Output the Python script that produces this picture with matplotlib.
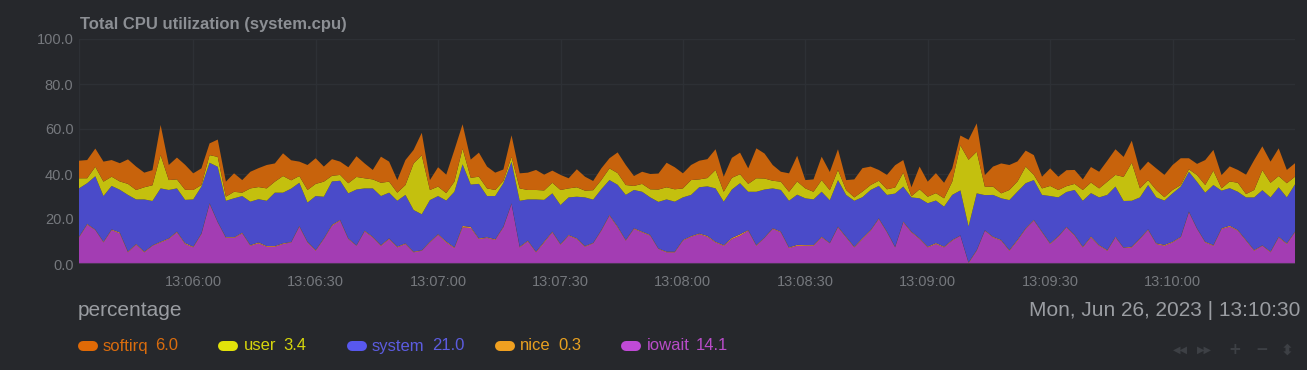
import matplotlib
matplotlib.use("Agg")
import matplotlib.pyplot as plt
import matplotlib.dates as mdates
from matplotlib.lines import Line2D
import pandas as pd

# 2-second samples, 13:05:32 .. 13:10:30
times = pd.date_range("2023-06-26 13:05:32", periods=150, freq="2s")

softirq = [7.8, 8.1, 8.1, 8.9, 7.4, 8.1, 10.9, 10.4, 6.5, 6.7, 13.4, 6.7, 9.7, 11.1, 7.4, 7.4, 5.2, 7.7, 6.7, 8.2, 5.6, 7.4, 8.4, 10.4, 8.1, 10.1, 8.9, 6.4, 11.1, 11.4, 6.7,
           7.4, 5.9, 7.1, 9.2, 6.6, 4.2, 11.6, 8.9, 5.6, 11.1, 6.0, 10.0, 4.4, 8.6, 8.2, 14.1, 10.8, 8.1, 10.7, 9.7, 7.7, 5.1, 9.6, 6.7, 7.7, 8.9, 7.0, 5.4, 6.7, 4.5,
           8.0, 6.2, 4.1, 5.2, 4.5, 9.2, 8.9, 4.4, 5.4, 6.8, 7.1, 10.9, 9.8, 6.7, 6.7, 8.3, 8.4, 9.2, 6.7, 8.9, 9.6, 6.9, 13.3, 11.1, 7.0, 4.4, 8.2, 11.4, 3.7, 5.5,
           10.4, 8.1, 9.2, 4.4, 8.0, 10.4, 8.2, 4.8, 6.4, 9.9, 5.6, 4.0, 10.1, 6.7, 8.9, 6.9, 5.9, 4.4, 8.9, 12.6, 5.2, 8.9, 13.3, 11.1, 8.9, 7.1, 8.8, 5.2, 7.8, 5.9,
           7.1, 6.2, 4.7, 6.9, 7.4, 9.3, 11.4, 8.9, 9.8, 7.9, 8.2, 9.6, 9.9, 11.1, 11.9, 4.9, 5.0, 11.1, 9.2, 5.9, 6.7, 5.7, 8.6, 13.3, 10.6, 9.4, 12.3, 5.9, 6.0]

user = [4.5, 2.2, 4.2, 6.4, 4.1, 3.7, 4.9, 4.2, 5.4, 7.0, 14.8, 4.4, 4.0, 4.5, 4.2, 0.7, 3.4, 4.4, 1.8, 2.9, 1.5, 5.9, 5.4, 5.5, 4.9, 7.4, 3.7, 3.0, 5.6, 5.4, 6.7,
        2.5, 2.6, 4.5, 5.6, 4.5, 4.0, 5.9, 4.9, 3.6, 4.4, 20.7, 26.2, 4.5, 4.2, 3.3, 4.5, 7.0, 3.0, 3.2, 3.4, 2.7, 1.0, 2.2, 5.5, 4.2, 4.2, 4.2, 4.7, 6.7, 4.0,
        4.2, 3.0, 4.2, 4.1, 5.2, 5.2, 4.4, 1.8, 3.5, 3.6, 5.5, 5.4, 5.5, 4.0, 6.6, 3.5, 3.7, 8.2, 4.4, 5.2, 4.0, 3.5, 6.0, 4.9, 3.4, 3.7, 4.0, 5.9, 4.4, 3.4,
        5.2, 4.5, 4.5, 2.2, 1.5, 2.5, 2.2, 2.3, 2.5, 2.7, 6.2, 0.5, 4.0, 2.9, 3.3, 3.7, 5.9, 20.0, 29.6, 18.5, 3.7, 3.7, 2.2, 4.5, 4.5, 7.4, 2.3, 2.9, 4.5, 3.3,
        2.6, 2.7, 4.8, 4.7, 4.0, 5.9, 5.2, 10.7, 16.9, 4.0, 2.2, 3.3, 1.5, 1.5, 0.7, 1.1, 3.0, 3.4, 6.4, 1.0, 3.0, 4.0, 1.5, 3.3, 8.9, 6.5, 5.0, 6.3, 3.4]

system = [21.5, 18.1, 23.7, 20.3, 19.3, 19.0, 25.2, 19.8, 23.2, 19.7, 23.7, 21.5, 19.2, 19.2, 21.0, 20.8, 18.0, 24.5, 16.2, 17.3, 16.3, 19.3, 19.2, 20.1, 23.7, 22.5, 23.7, 19.2, 17.4, 24.0, 18.5,
          19.3, 17.4, 20.0, 24.8, 18.8, 21.5, 21.8, 20.3, 20.4, 21.5, 18.5, 16.0, 18.5, 16.9, 18.2, 24.7, 27.4, 18.8, 24.2, 18.3, 19.2, 19.3, 18.5, 20.4, 18.3, 23.2, 18.5, 17.0, 17.3, 16.7,
          18.5, 21.6, 19.2, 18.1, 15.5, 18.5, 20.0, 17.0, 17.7, 16.7, 20.7, 23.2, 22.2, 18.9, 18.3, 20.5, 22.0, 23.7, 19.3, 21.5, 22.7, 17.0, 23.7, 21.3, 17.7, 18.5, 20.7, 22.3, 20.8, 20.3,
          20.0, 18.9, 20.7, 18.6, 20.4, 18.2, 17.8, 14.4, 16.3, 23.7, 15.6, 15.2, 17.8, 19.3, 18.9, 17.8, 20.0, 20.0, 16.0, 25.2, 15.6, 18.6, 18.5, 22.2, 21.4, 20.0, 17.7, 16.3, 21.0, 17.2,
          15.5, 20.0, 20.4, 19.3, 21.2, 24.5, 22.3, 20.7, 20.4, 18.2, 19.7, 20.4, 19.7, 21.5, 22.3, 17.7, 20.7, 21.8, 26.7, 16.7, 16.7, 17.0, 18.9, 23.4, 24.5, 24.1, 22.0, 20.4, 21.0]

nice = [0.3, 0.3, 0.2, 0.3, 0.3, 0.4, 0.3, 0.3, 0.3, 0.2, 0.3, 0.3, 0.3, 0.4, 0.3, 0.3, 0.3, 0.2, 0.3, 0.3, 0.3, 0.3, 0.4, 0.3, 0.3, 0.3, 0.2, 0.3, 0.3, 0.3,
        0.3, 0.4, 0.3, 0.3, 0.2, 0.3, 0.3, 0.3, 0.3, 0.3, 0.3, 0.3, 0.2, 0.3, 0.3, 0.4, 0.3, 0.6, 0.5, 0.3, 0.3, 0.3, 0.3, 0.2, 0.3, 0.3, 0.3, 0.4, 0.3, 0.3,
        0.3, 0.3, 0.3, 0.2, 0.3, 0.3, 0.4, 0.3, 0.3, 0.3, 0.3, 0.2, 0.3, 0.3, 0.3, 0.3, 0.3, 0.4, 0.3, 0.3, 0.5, 0.6, 0.3, 0.3, 0.2, 0.3, 0.3, 0.3, 0.4, 0.3,
        0.3, 0.3, 0.2, 0.3, 0.3, 0.3, 0.4, 0.3, 0.3, 0.3, 0.2, 0.3, 0.3, 0.3, 0.3, 0.4, 0.3, 0.3, 0.1, 0.3, 0.3, 0.2, 0.3, 0.3, 0.3, 0.4, 0.3, 0.3, 0.3, 0.3,
        0.3, 0.2, 0.3, 0.3, 0.4, 0.3, 0.3, 0.3, 0.2, 0.3, 0.3, 0.3, 0.3, 0.4, 0.3, 0.3, 0.3, 0.2, 0.3, 0.3, 0.3, 0.4, 0.3, 0.3, 0.3, 0.2, 0.3, 0.3, 0.3, 0.3]

iowait = [11.8, 17.5, 15.1, 9.6, 15.1, 13.6, 5.2, 8.6, 5.2, 8.1, 9.6, 11.1, 14.1, 8.9, 7.4, 13.3, 26.7, 18.5, 11.6, 11.6, 13.6, 8.1, 9.2, 7.7, 7.7, 8.9, 9.6, 16.6, 9.6, 5.9, 11.1,
          17.0, 19.3, 11.1, 8.1, 14.5, 11.8, 8.1, 11.1, 7.4, 8.9, 5.2, 5.9, 9.6, 13.0, 9.6, 7.1, 16.3, 16.0, 11.1, 11.6, 10.7, 16.3, 26.7, 7.4, 10.1, 5.2, 9.6, 14.1, 8.6, 12.6,
          11.1, 7.7, 9.2, 14.8, 21.5, 16.3, 10.4, 15.6, 14.1, 12.6, 6.7, 5.2, 5.2, 10.4, 12.1, 13.3, 12.1, 9.6, 8.1, 11.1, 12.6, 14.8, 8.1, 11.6, 15.6, 14.1, 7.1, 8.1, 8.1, 8.1,
          11.8, 9.2, 16.3, 11.8, 7.4, 11.1, 14.8, 20.0, 14.1, 7.4, 18.5, 14.1, 11.1, 7.4, 8.9, 7.4, 10.4, 12.6, 0.4, 5.9, 14.8, 11.8, 10.4, 5.9, 10.4, 15.6, 19.3, 14.1, 8.9, 12.1,
          16.3, 12.6, 7.4, 11.8, 8.1, 5.9, 11.8, 7.1, 7.4, 11.1, 15.1, 8.9, 8.1, 9.6, 11.8, 23.0, 15.6, 9.6, 8.1, 15.6, 16.6, 14.8, 10.4, 5.9, 8.1, 5.2, 11.8, 8.9, 14.1]

names = ["softirq", "user", "system", "nice", "iowait"]
area_colors = ["#c8630c", "#c4c00e", "#4a4bc9", "#f09a1e", "#a33db3"]
legend_colors = ["#e06a06", "#e2e20a", "#5858ee", "#f0a020", "#c04ad6"]
text_colors = ["#d96c0e", "#d6d60c", "#5c5ce0", "#e8a020", "#b84cc8"]

bg = "#26282c"
plt.rcParams["font.family"] = ["Liberation Sans", "DejaVu Sans"]

fig = plt.figure(figsize=(13.07, 3.70), dpi=100, facecolor=bg)
ax = fig.add_axes([79 / 1307, 106 / 370, 1216 / 1307, 225 / 370])
ax.set_facecolor(bg)

# stacked bottom -> top: iowait, nice, system, user, softirq
ax.stackplot(times, iowait, nice, system, user, softirq,
             colors=[area_colors[4], area_colors[3], area_colors[2], area_colors[1], area_colors[0]],
             linewidth=0)

ax.set_xlim(times[0], times[-1])
ax.set_ylim(0, 100)
ax.set_yticks([0, 20, 40, 60, 80, 100])
ax.set_yticklabels(["0.0", "20.0", "40.0", "60.0", "80.0", "100.0"])
xticks = [t for t in times if t.second % 30 == 0 and t < times[-1]]
ax.set_xticks(xticks)
ax.xaxis.set_major_formatter(mdates.DateFormatter("%H:%M:%S"))
ax.tick_params(axis="both", length=0, colors="#75787d", labelsize=10.5)
ax.tick_params(axis="x", pad=8)
ax.tick_params(axis="y", pad=4)
ax.grid(True, color="#2d3035", linewidth=1)
ax.set_axisbelow(True)
for s in ax.spines.values():
    s.set_visible(False)
ax.axhline(0, color="#4b3655", linewidth=1.5)
ax.axvline(times[0], color="#2d3035", linewidth=1, zorder=0)

fig.text(80 / 1307, 1 - 24 / 370, "Total CPU utilization (system.cpu)", color="#8c8f94",
         fontsize=12, fontweight="bold", va="center", ha="left")
fig.text(78 / 1307, 1 - 311 / 370, "percentage", color="#9a9da2", fontsize=15, va="center", ha="left")
fig.text(1300 / 1307, 1 - 311 / 370, "Mon, Jun 26, 2023 | 13:10:30", color="#9a9da2",
         fontsize=15, va="center", ha="right")

# legend
pill_x = [78, 218, 347, 495, 621]
name_x = [103, 244, 372, 520, 647]
value_x = [155, 283, 432, 558, 696]
last_vals = [softirq[-1], user[-1], system[-1], nice[-1], iowait[-1]]
ly = 1 - 346 / 370
for i, n in enumerate(names):
    x0 = (pill_x[i] + 5) / 1307
    x1 = (pill_x[i] + 15) / 1307
    fig.add_artist(Line2D([x0, x1], [ly, ly], color=legend_colors[i], linewidth=7.2,
                          solid_capstyle="round", transform=fig.transFigure))
    fig.text(name_x[i] / 1307, ly, n, color=text_colors[i], fontsize=12, va="center", ha="left")
    fig.text(value_x[i] / 1307, ly, "%.1f" % last_vals[i], color=text_colors[i], fontsize=12,
             va="center", ha="left")

# navigation buttons (faint)
nav = [("◀◀", 1180), ("▶▶", 1204), ("+", 1235), ("−", 1262), ("⬍", 1287)]
for sym, x in nav:
    fig.text(x / 1307, 1 - 350 / 370, sym, color="#3d4045", fontsize=11 if len(sym) == 1 else 7,
             va="center", ha="center", family="DejaVu Sans", fontweight="bold")

fig.savefig("out.png", dpi=100, facecolor=bg)
